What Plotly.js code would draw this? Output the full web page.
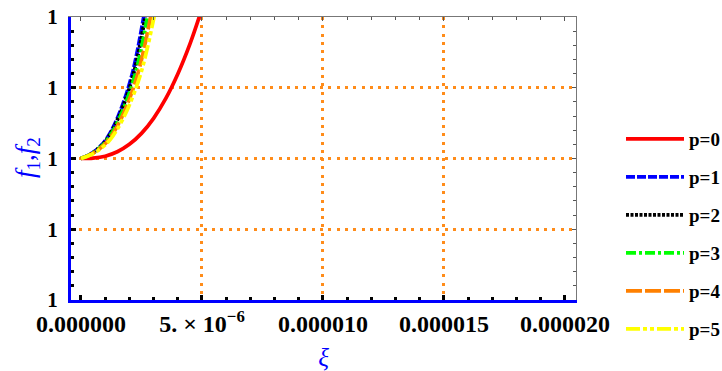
<!DOCTYPE html>
<html>
<head>
<meta charset="utf-8">
<script src="https://cdn.plot.ly/plotly-3.0.1.min.js"></script>
<style>html,body{margin:0;padding:0;background:#fff;}#chart{width:722px;height:371px;}</style>
</head>
<body>
<div id="chart"></div>
<script>
// ---- data ----
const seriesNames = ["p=0", "p=1", "p=2", "p=3", "p=4", "p=5"];

const xP0 = [0, 0.5e-6, 1.0e-6, 1.5e-6, 2.0e-6, 2.5e-6, 3.0e-6, 3.5e-6, 4.0e-6, 4.5e-6, 4.9e-6, 5.05e-6];
const yP0 = [1, 1.00000006, 1.00000033, 1.00000095, 1.000002, 1.00000355, 1.00000568, 1.00000846, 1.00001195, 1.00001617, 1.00002014, 1.0000218];

const xP1 = [0, 0.289e-6, 0.496e-6, 0.702e-6, 0.909e-6, 1.116e-6, 1.322e-6, 1.529e-6, 1.736e-6, 1.942e-6, 2.149e-6, 2.355e-6, 2.562e-6, 2.686e-6];
const xP2 = [0, 0.296e-6, 0.508e-6, 0.720e-6, 0.932e-6, 1.144e-6, 1.355e-6, 1.567e-6, 1.779e-6, 1.991e-6, 2.203e-6, 2.414e-6, 2.626e-6, 2.753e-6];
const xP3 = [0, 0.306e-6, 0.526e-6, 0.744e-6, 0.964e-6, 1.183e-6, 1.401e-6, 1.621e-6, 1.840e-6, 2.059e-6, 2.278e-6, 2.496e-6, 2.716e-6, 2.847e-6];
const xP4 = [0, 0.321e-6, 0.551e-6, 0.779e-6, 1.009e-6, 1.239e-6, 1.467e-6, 1.697e-6, 1.927e-6, 2.156e-6, 2.385e-6, 2.614e-6, 2.844e-6, 2.981e-6];
const xP5 = [0, 0.337e-6, 0.578e-6, 0.818e-6, 1.059e-6, 1.300e-6, 1.540e-6, 1.781e-6, 2.022e-6, 2.262e-6, 2.504e-6, 2.744e-6, 2.985e-6, 3.130e-6];
const yP1to5 = [1, 1.00000042, 1.00000085, 1.00000141, 1.00000211, 1.0000031, 1.00000437, 1.00000592, 1.00000775, 1.00000986, 1.00001239, 1.00001563, 1.00001944, 1.0000218];

const xTickVals = [0, 5e-6, 1e-5, 1.5e-5, 2e-5];
const xTickText = ["0.000000", "5. \u00d7 10<sup>\u22126</sup>", "0.000010", "0.000015", "0.000020"];
const yTickVals = [0.99998, 0.99999, 1, 1.00001, 1.00002];
const yTickText = ["1", "1", "1", "1", "1"];
const xGridVals = [5e-6, 1e-5, 1.5e-5];
const yGridVals = [0.99999, 1, 1.00001];
const xTitle = "<i>\u03be</i>";
const yTitle = "<i>f</i><sub>1</sub>,<i>f</i><sub>2</sub>";

// ---- styles ----
const colors = ["#ff0000", "#0000ff", "#000000", "#00ff00", "#ff8000", "#ffff00"];
const dashes = ["solid", "9px,2px", "3px,1.5px", "10px,3px,3px,3px", "16px,3px", "14px,3px,4px,3px,4px,3px"];
const xs = [xP0, xP1, xP2, xP3, xP4, xP5];
const ys = [yP0, yP1to5, yP1to5, yP1to5, yP1to5, yP1to5];

const traces = seriesNames.map((n, i) => ({
  type: "scatter", mode: "lines", name: n,
  x: xs[i], y: ys[i],
  legendgroup: "g" + i,
  line: {color: colors[i], width: 3.7, dash: dashes[i], shape: "spline", smoothing: 0.8}
}));
// empty helper traces so the frame axes and the grid axes are drawn
traces.push({type: "scatter", mode: "lines", x: [], y: [], xaxis: "x2", yaxis: "y2", showlegend: false, hoverinfo: "skip"});
traces.push({type: "scatter", mode: "lines", x: [], y: [], xaxis: "x3", yaxis: "y3", showlegend: false, hoverinfo: "skip"});

const xRange = [-4.13e-7, 2.0455e-5];
const yRange = [0.99998, 1.00002];
const serifBold = {family: "Liberation Serif, Times New Roman, serif", weight: "bold", color: "#000"};

const layout = {
  width: 722, height: 371,
  margin: {l: 71, r: 146, t: 17, b: 71},
  paper_bgcolor: "#fff", plot_bgcolor: "#fff",
  showlegend: true,
  legend: {
    xref: "container", yref: "container",
    x: 621/722, y: 1 - 120/371, xanchor: "left", yanchor: "top",
    font: Object.assign({size: 19}, serifBold),
    itemwidth: 58, tracegroupgap: 10.3, bgcolor: "rgba(0,0,0,0)", borderwidth: 0,
    maxheight: 600
  },
  annotations: [{
    text: yTitle, textangle: -90, showarrow: false,
    xref: "paper", yref: "paper", x: (27 - 71) / 505, y: (300 - 158) / 283,
    xanchor: "center", yanchor: "middle",
    font: {family: "Liberation Serif, serif", size: 27, color: "#0000ff"}
  }],
  xaxis: {
    range: xRange, tickmode: "array", tickvals: xTickVals, ticktext: xTickText,
    showgrid: false, zeroline: false,
    showline: true, linecolor: "#0000ff", linewidth: 3,
    ticks: "inside", ticklen: 5, tickwidth: 3, tickcolor: "#000",
    minor: {dtick: 1e-6, tick0: 0, ticks: "inside", ticklen: 3, tickwidth: 3, tickcolor: "#000", showgrid: false},
    tickfont: Object.assign({size: 24}, serifBold),
    ticklabelstandoff: 0,
    title: {text: xTitle, font: {family: "Liberation Serif, serif", size: 25, color: "#0000ff"}, standoff: 14}
  },
  yaxis: {
    range: yRange, tickmode: "array", tickvals: yTickVals, ticktext: yTickText,
    showgrid: false, zeroline: false,
    showline: true, linecolor: "#0000ff", linewidth: 3,
    ticks: "inside", ticklen: 5, tickwidth: 3, tickcolor: "#000",
    minor: {dtick: 2e-6, tick0: 1, ticks: "inside", ticklen: 3, tickwidth: 3, tickcolor: "#000", showgrid: false},
    tickfont: Object.assign({size: 21}, serifBold),
    ticklabelstandoff: 6
  },
  xaxis2: {
    overlaying: "x", side: "top", anchor: "y2", range: xRange,
    tickmode: "array", tickvals: xTickVals, showticklabels: false,
    showgrid: false, zeroline: false,
    showline: true, linecolor: "#777", linewidth: 1,
    ticks: "inside", ticklen: 4, tickwidth: 1, tickcolor: "#555",
    minor: {dtick: 1e-6, tick0: 0, ticks: "inside", ticklen: 3, tickwidth: 1, tickcolor: "#555", showgrid: false}
  },
  yaxis2: {
    overlaying: "y", side: "right", anchor: "x2", range: yRange,
    tickmode: "array", tickvals: yTickVals, showticklabels: false,
    showgrid: false, zeroline: false,
    showline: true, linecolor: "#777", linewidth: 1,
    ticks: "inside", ticklen: 4, tickwidth: 1, tickcolor: "#555",
    minor: {dtick: 2e-6, tick0: 1, ticks: "inside", ticklen: 3, tickwidth: 1, tickcolor: "#555", showgrid: false}
  },
  xaxis3: {
    overlaying: "x", anchor: "y3", range: xRange,
    tickmode: "array", tickvals: xGridVals, showticklabels: false, ticks: "",
    showline: false, zeroline: false,
    showgrid: true, gridcolor: "#ff8c1a", gridwidth: 3, griddash: "3px,5.3px"
  },
  yaxis3: {
    overlaying: "y", anchor: "x3", range: yRange,
    tickmode: "array", tickvals: yGridVals, showticklabels: false, ticks: "",
    showline: false, zeroline: false,
    showgrid: true, gridcolor: "#ff8c1a", gridwidth: 3, griddash: "3px,5.3px"
  }
};

Plotly.newPlot("chart", traces, layout, {staticPlot: true, displayModeBar: false});
</script>
</body>
</html>
